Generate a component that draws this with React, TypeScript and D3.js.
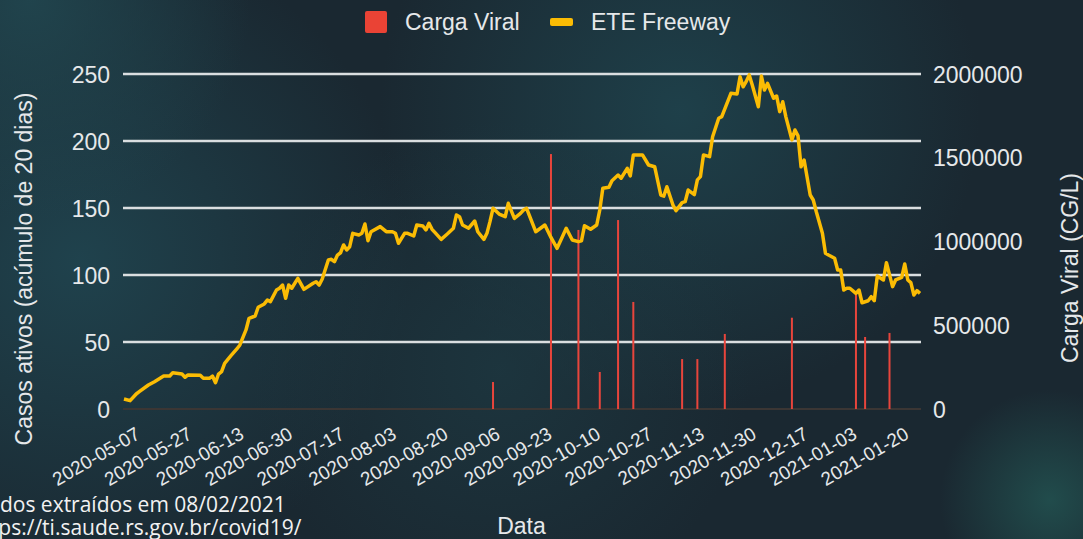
import React from 'react';
import * as d3 from 'd3';

// eixo x: rotulos das datas (posicao em categorias/dias a partir de 2020-05-07)
const tickLabels = [
  '2020-05-07', '2020-05-27', '2020-06-13', '2020-06-30', '2020-07-17', '2020-08-03',
  '2020-08-20', '2020-09-06', '2020-09-23', '2020-10-10', '2020-10-27', '2020-11-13',
  '2020-11-30', '2020-12-17', '2021-01-03', '2021-01-20',
];
const tickDia = [0, 17, 34, 50, 67, 84, 101, 118, 135, 151, 168, 185, 202, 219, 235, 252];
const ultimoDia = 261;

const casosTicks = [0, 50, 100, 150, 200, 250];
const cargaTicks = [0, 500000, 1000000, 1500000, 2000000];

// ETE Freeway (casos ativos, acumulo de 20 dias)
const linhaDia = [
  0, 2, 4, 5, 8, 10, 13, 15, 16, 19,
  20, 21, 25, 26, 28, 29, 30, 31, 32, 33,
  35, 37, 38, 40, 41, 43, 44, 46, 47, 48,
  50, 51, 52, 53, 54, 55, 57, 59, 62, 63,
  64, 65, 67, 68, 69, 70, 71, 72, 73, 74,
  75, 77, 78, 79, 80, 81, 84, 86, 88, 89,
  90, 92, 93, 95, 96, 98, 99, 100, 101, 102,
  104, 106, 108, 109, 110, 111, 113, 115, 116, 118,
  119, 120, 121, 123, 125, 126, 128, 130, 131, 132,
  135, 138, 140, 142, 144, 145, 147, 149, 150, 151,
  153, 155, 156, 157, 159, 160, 162, 163, 165, 166,
  167, 170, 172, 174, 176, 177, 178, 180, 181, 183,
  184, 185, 187, 188, 189, 190, 192, 193, 195, 196,
  199, 201, 202, 203, 204, 205, 206, 208, 209, 210,
  211, 213, 214, 215, 216, 217, 219, 220, 221, 222,
  223, 225, 226, 227, 229, 230, 231, 233, 234, 235,
  236, 237, 238, 240, 241, 242, 244, 245, 246, 247,
  249, 250, 252, 253, 255, 256, 257, 258, 259, 260,
  261,
];
const linhaCasos = [
  7.5, 6.2, 11.2, 12.9, 17.9, 20.4, 24.6, 24.6, 27.1, 26.1,
  23.7, 25.4, 25.1, 22.9, 22.9, 24.6, 19.6, 26.1, 27.9, 34.1,
  39.6, 44.8, 47.8, 59.0, 67.7, 69.4, 75.9, 78.4, 81.3, 80.1,
  88.8, 90.1, 92.5, 82.6, 92.5, 90.1, 97.5, 89.3, 93.8, 95.0,
  92.5, 97, 111.2, 111.7, 109.9, 114.9, 116.6, 122.4, 118.7, 121.1,
  131.1, 129.9, 131.1, 138.1, 125.6, 132.3, 136.1, 132.3, 132.3, 131.1,
  123.7, 131.1, 131.1, 129.1, 137.3, 136.6, 133.6, 138.6, 134.1, 131.6,
  126.6, 130.6, 134.9, 144.8, 143.5, 137.3, 134.9, 140.3, 132.3, 126.6,
  131.1, 139.8, 149.8, 145.5, 143.5, 153.5, 142.3, 146.0, 148.5, 149.8,
  132.3, 137.3, 128, 119.9, 129.9, 134.9, 126.1, 124.9, 125.5, 136.8,
  134.1, 137.3, 148.5, 164.7, 165.5, 170.4, 174.6, 172.2, 179.6, 173.9,
  189.6, 189.6, 182.1, 180.8, 159.7, 158.9, 165.9, 152.2, 148, 154,
  154.7, 163.4, 160, 171, 173.4, 189.6, 188.3, 203.2, 217, 218.2,
  235.6, 235.1, 248, 240.5, 244.3, 249.3, 241.8, 225.6, 248.5, 238,
  243, 231.9, 233.6, 221.9, 229.3, 218.2, 200.8, 208.2, 203.8, 180.8,
  185.8, 159.7, 156, 147.2, 131.1, 116.2, 114.9, 112.5, 103.7, 103.7,
  88.8, 90.1, 90.1, 86.3, 88.8, 79.3, 80.8, 83.8, 80.8, 99.3,
  96.3, 109.2, 91.3, 96.3, 98.3, 108.2, 96.3, 94.3, 85.1, 88.3,
  86.3,
];

// Carga Viral (CG/L)
const cargaDia = [121, 140, 149, 156, 162, 167, 183, 188, 197, 219, 240, 243, 251];
const cargaValor = [
  161000, 1522000, 1069000, 221000, 1128000, 639000, 298000,
  298000, 448000, 545000, 681000, 430000, 454000,
];

const FONT = '"Liberation Sans", Arial, sans-serif';
const TXT = '#e6e8ea';

export default function App() {
  const W = 1083;
  const H = 539;
  const x = d3.scaleLinear().domain([0, ultimoDia]).range([124, 920]);
  const yL = d3.scaleLinear().domain([0, 250]).range([409, 74]);
  const yR = d3.scaleLinear().domain([0, 2000000]).range([409, 74]);
  const x0 = 123;
  const x1 = 921;

  const linha = d3
    .line<number>()
    .x((_, i) => x(linhaDia[i]))
    .y((d) => yL(d))(linhaCasos);

  return (
    <div style={{ position: 'absolute', left: 0, top: 0, width: W, height: H, overflow: 'hidden' }}>
      <svg width={W} height={H} style={{ display: 'block' }} fontFamily={FONT}>
        <defs>
          <radialGradient id="g1" cx="80" cy="260" r="330" gradientUnits="userSpaceOnUse">
            <stop offset="0" stopColor="#204550" stopOpacity="0.9" />
            <stop offset="1" stopColor="#204550" stopOpacity="0" />
          </radialGradient>
          <radialGradient id="g2" cx="680" cy="110" r="300" gradientUnits="userSpaceOnUse">
            <stop offset="0" stopColor="#1f444e" stopOpacity="0.85" />
            <stop offset="1" stopColor="#1f444e" stopOpacity="0" />
          </radialGradient>
          <radialGradient id="g3" cx="1050" cy="500" r="110" gradientUnits="userSpaceOnUse">
            <stop offset="0" stopColor="#22504f" stopOpacity="0.9" />
            <stop offset="1" stopColor="#22504f" stopOpacity="0" />
          </radialGradient>
          <radialGradient id="g4" cx="30" cy="0" r="220" gradientUnits="userSpaceOnUse">
            <stop offset="0" stopColor="#21464f" stopOpacity="0.9" />
            <stop offset="1" stopColor="#21464f" stopOpacity="0" />
          </radialGradient>
          <radialGradient id="g5" cx="500" cy="370" r="250" gradientUnits="userSpaceOnUse">
            <stop offset="0" stopColor="#1e3d46" stopOpacity="0.6" />
            <stop offset="1" stopColor="#1e3d46" stopOpacity="0" />
          </radialGradient>
        </defs>
        <rect width={W} height={H} fill="#1a2831" />
        <rect width={W} height={H} fill="url(#g1)" />
        <rect width={W} height={H} fill="url(#g2)" />
        <rect width={W} height={H} fill="url(#g3)" />
        <rect width={W} height={H} fill="url(#g4)" />
        <rect width={W} height={H} fill="url(#g5)" />

        {/* legenda */}
        <rect x={365} y={11} width={22} height={22} rx={2} fill="#ea4335" />
        <text x={405} y={30} fontSize={23} fill={TXT}>Carga Viral</text>
        <rect x={550} y={18} width={23} height={8} rx={2} fill="#fbbc04" />
        <text x={591} y={30} fontSize={23} fill={TXT}>ETE Freeway</text>

        {/* grade */}
        {casosTicks.filter((t) => t > 0).map((t) => (
          <line key={t} x1={x0} x2={x1} y1={yL(t)} y2={yL(t)} stroke="#dadee0" strokeWidth={2.5} />
        ))}
        <line x1={x0} x2={x1} y1={yL(0)} y2={yL(0)} stroke="#3b3634" strokeWidth={2} />

        {/* eixo esquerdo */}
        {casosTicks.map((t) => (
          <text key={t} x={110} y={yL(t) + 8.5} fontSize={23} fill={TXT} textAnchor="end">{t}</text>
        ))}
        {/* eixo direito */}
        {cargaTicks.map((t) => (
          <text key={t} x={933} y={yR(t) + 8.5} fontSize={23} fill={TXT}>{t}</text>
        ))}

        {/* barras da carga viral */}
        {cargaDia.map((d, i) => (
          <rect key={d} x={x(d) - 1} y={yR(cargaValor[i])} width={2} height={yR(0) - yR(cargaValor[i])} fill="#e8453c" />
        ))}

        {/* linha ETE */}
        <path d={linha ?? ''} fill="none" stroke="#fbbc04" strokeWidth={3.5} strokeLinejoin="round" />

        {/* rotulos do eixo x */}
        {tickDia.map((d, i) => (
          <text
            key={d}
            transform={`translate(${x(d) + 17.5},${yL(0) + 28.8}) rotate(-30)`}
            fontSize={19}
            fill={TXT}
            textAnchor="end"
          >
            {tickLabels[i]}
          </text>
        ))}

        {/* titulos dos eixos */}
        <text transform="translate(32,269) rotate(-90)" fontSize={23} fill={TXT} textAnchor="middle">
          Casos ativos (acúmulo de 20 dias)
        </text>
        <text transform="translate(1078,268) rotate(-90)" fontSize={23} fill={TXT} textAnchor="middle">
          Carga Viral (CG/L)
        </text>
        <text x={521.5} y={534} fontSize={23} fill={TXT} textAnchor="middle">Data</text>

        {/* fonte dos dados */}
        <text x={-27} y={512} fontSize={21} fill="#f2f2f2" fontFamily='"Open Sans", sans-serif'>
          Dados extraídos em 08/02/2021
        </text>
        <text x={-29.5} y={535} fontSize={21} fill="#f2f2f2" fontFamily='"Open Sans", sans-serif'>
          https://ti.saude.rs.gov.br/covid19/
        </text>
      </svg>
    </div>
  );
}
